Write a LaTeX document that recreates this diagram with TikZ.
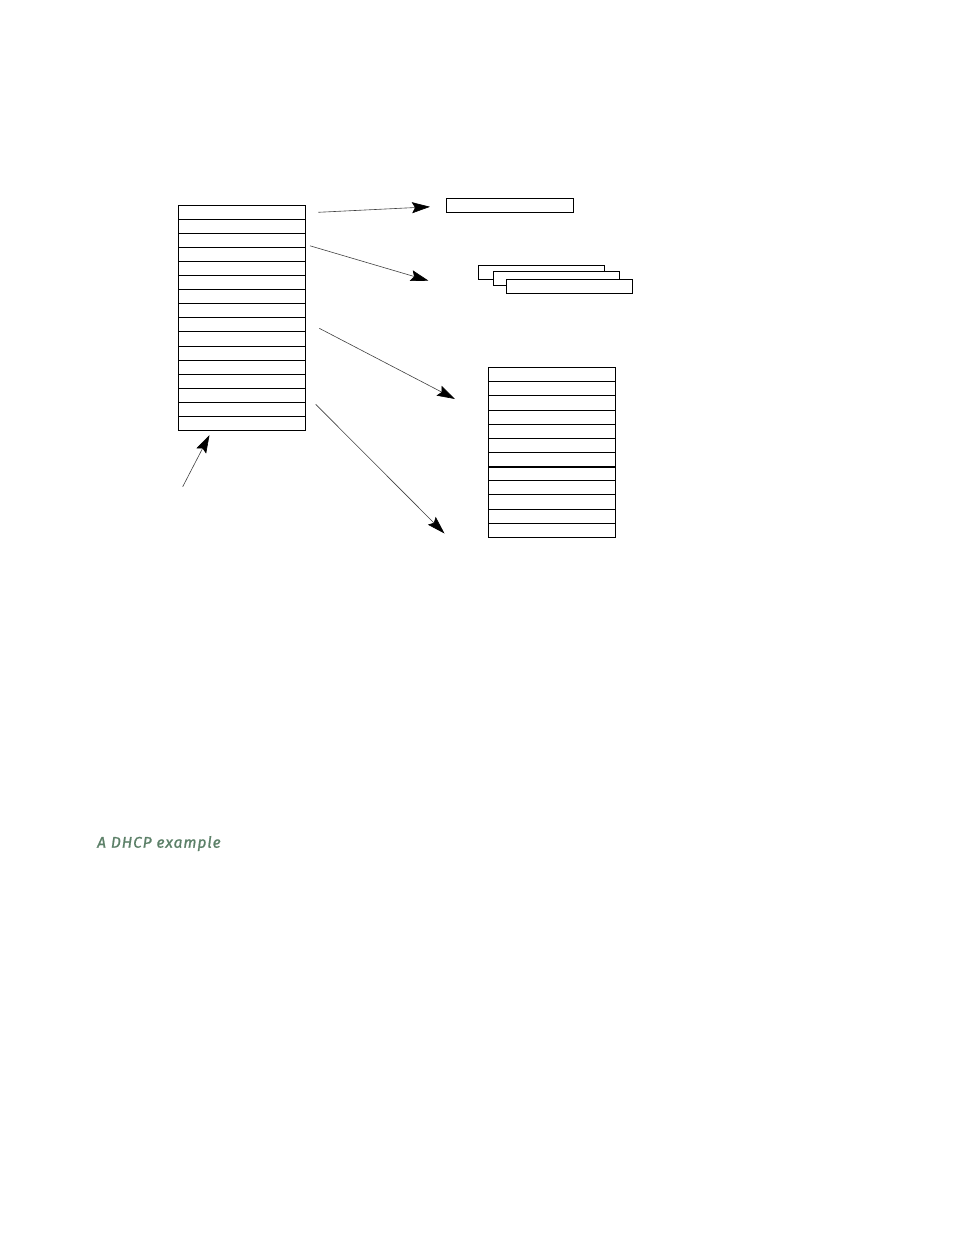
\documentclass[tikz,border=0pt]{standalone}
\usepackage{fontspec}
\newfontfamily\capfont[LetterSpace=6,FakeBold=1.2]{Fira Sans}
\usetikzlibrary{arrows.meta}
\definecolor{capgreen}{RGB}{92,128,104}
\begin{document}
\begin{tikzpicture}[x=1pt,y=-1pt,
  cell/.style={draw=black,line width=1pt,inner sep=0pt,outer sep=0pt},
  conn/.style={draw=black!75,line width=0.6pt,-{Stealth[length=18pt,width=11pt,inset=3pt,color=black]}}]
\useasboundingbox (0,0) rectangle (954,1235);
% left table (16 rows)
\foreach \i in {0,...,15}{
  \draw[line width=1pt] (178.5,{205+14.1*\i}) rectangle (305.5,{205+14.1*(\i+1)});
}
\coordinate (L) at (178.5,205);
% single box
\node[cell,minimum width=127.5pt,minimum height=14pt,anchor=north west] (single) at (446,198.5) {};
% stacked boxes
\node[cell,fill=white,minimum width=126pt,minimum height=14pt,anchor=north west] (s1) at (478.5,265.5) {};
\node[cell,fill=white,minimum width=126pt,minimum height=14pt,anchor=north west] (s2) at (493.5,271.5) {};
\node[cell,fill=white,minimum width=126pt,minimum height=14pt,anchor=north west] (s3) at (506.5,279.5) {};
% right table (12 rows)
\foreach \i in {0,...,11}{
  \draw[line width=1pt] (488.5,{367.7+14.13*\i}) rectangle (615,{367.7+14.13*(\i+1)});
}
\draw[line width=2pt] (488.5,466.6) -- (615,466.6);
% connectors
\coordinate (a1s) at (318.3,212.3); \coordinate (a1e) at (430,206.8);
\coordinate (a2s) at (310,245.8);   \coordinate (a2e) at (428.5,280.7);
\coordinate (a3s) at (319.3,328.3); \coordinate (a3e) at (455,399);
\coordinate (a4s) at (315.7,404.3); \coordinate (a4e) at (444.5,533.5);
\coordinate (a5s) at (182.7,486.7); \coordinate (a5e) at (209.5,435);
\draw[conn] (a1s) -- (a1e);
\draw[conn] (a2s) -- (a2e);
\draw[conn] (a3s) -- (a3e);
\draw[conn] (a4s) -- (a4e);
\draw[conn] (a5s) -- (a5e);
% caption
\node[anchor=base west,inner sep=0pt,text=capgreen,font=\capfont\itshape\fontsize{15.5}{18}\selectfont] (cap) at (97,847.7) {A DHCP example};
\end{tikzpicture}
\end{document}
